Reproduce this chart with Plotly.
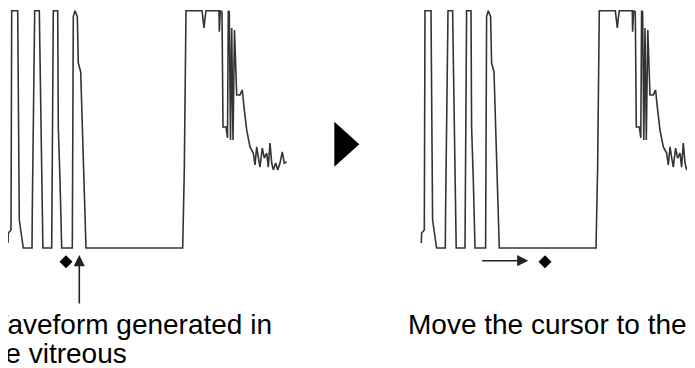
import plotly.graph_objects as go

# A-scan waveform (time offset, amplitude in % of full scale)
wave_t = [0, 0.3, 3, 3.7, 9.7, 11.3, 15.3, 24, 24.3, 26.7, 31.3, 34.7, 34.9,
          43.7, 43.9, 45.3, 49.7, 50.3, 52, 53.7, 64.3, 64.5, 65.3, 67, 69.3,
          70.3, 72.7, 78, 174.7, 176.3, 178, 194, 195, 196, 197, 198, 211,
          211.3, 212.3, 214, 215, 218, 219.5, 220.3, 221.3, 222.5, 223.7, 225,
          226.5, 227.5, 228.7, 232, 234.3, 236.3, 238.7, 242, 245.3, 247,
          248.7, 250.3, 252, 254.3, 256.3, 258.7, 260.3, 262, 263.7, 265.3,
          267.7, 269.7, 272, 274.3, 276.3, 278.7]
wave_amp = [2.1, 6.3, 7.6, 100, 100, 11.8, 0, 0, 16, 100, 100, 11.8, 0,
            0, 12.6, 100, 100, 51, 28.7, 0, 0, 13.1, 97.5, 100, 97.5,
            78, 74.2, 0, 0, 32.9, 100, 100, 95.2, 92.7, 96.9, 100, 100,
            91.1, 100, 99.5, 51, 51, 46.4, 100, 99.5, 45.5, 92.7, 45.5,
            91.9, 75, 64.5, 64.5, 66.6, 58.2, 49.7, 42.6, 40, 35,
            42.6, 38.3, 34.1, 42.1, 37.9, 40, 34.1, 44.2, 35.8, 32.9,
            35.8, 32.9, 35.8, 40.5, 35.8, 36.2]

# cursor position before / after moving it
cursor_before = 58
cursor_after = 123.7
cursor_level = -5.8

# the page body has an 8px margin, so the figure is drawn 8px in
W, H = 687, 360
OFF = 8
LINE = '#333333'
FONT = 'Liberation Sans, Arial, sans-serif'


def px(x):
    return (x - OFF) / W


def py(y):
    return 1 - (y - OFF) / H


fig = go.Figure()
for xa, ya, cur in [('x', 'y', cursor_before), ('x2', 'y2', cursor_after)]:
    fig.add_trace(go.Scatter(x=wave_t, y=wave_amp, mode='lines', xaxis=xa, yaxis=ya,
                             line=dict(color=LINE, width=1.6), hoverinfo='skip'))
    fig.add_trace(go.Scatter(x=[cur], y=[cursor_level], mode='markers', xaxis=xa, yaxis=ya,
                             marker=dict(symbol='diamond', size=10, color='black'),
                             hoverinfo='skip'))

# 2.373 px per amplitude unit, amplitude 0 sits at y=248 in the page
yrange = [-30, 101.1]
ydom = [py(248 + 30 * 2.373), min(1, py(248 - 101.1 * 2.373))]
fig.update_layout(
    width=W, height=H,
    margin=dict(l=0, r=0, t=0, b=0),
    paper_bgcolor='white', plot_bgcolor='white',
    showlegend=False,
    xaxis=dict(domain=[px(8), px(290)], range=[0, 282], visible=False),
    xaxis2=dict(domain=[px(418.3), 1], range=[-3, 695 - 421.3], visible=False),
    yaxis=dict(domain=ydom, range=yrange, visible=False),
    yaxis2=dict(domain=ydom, range=yrange, visible=False, anchor='x2'),
)

# arrows
fig.add_annotation(x=71.3, y=-2.95, ax=71.3, ay=-24, xref='x', yref='y',
                   axref='x', ayref='y', text='', showarrow=True,
                   arrowhead=2, arrowsize=1.4, arrowwidth=1.6, arrowcolor='#222222')
fig.add_annotation(x=107, y=-5.35, ax=59.4, ay=-5.35, xref='x2', yref='y2',
                   axref='x2', ayref='y2', text='', showarrow=True,
                   arrowhead=2, arrowsize=1.4, arrowwidth=1.6, arrowcolor='#222222')

# play triangle between panels
fig.add_shape(type='path', xref='paper', yref='paper',
              path='M %f %f L %f %f L %f %f Z' % (px(334.3), py(121.7),
                                                  px(334.3), py(166.7),
                                                  px(359.3), py(144.2)),
              fillcolor='black', line=dict(width=0))

labels = [('Waveform generated in', -20, 324), ('the vitreous', -20, 353),
          ('Move the cursor to the', 406, 324)]
for txt, lx, ly in labels:
    fig.add_annotation(x=px(lx), y=py(ly), xref='paper', yref='paper',
                       xanchor='left', yanchor='middle', text=txt, showarrow=False,
                       font=dict(family=FONT, size=28, color='black'))

fig.write_html('out.html')
